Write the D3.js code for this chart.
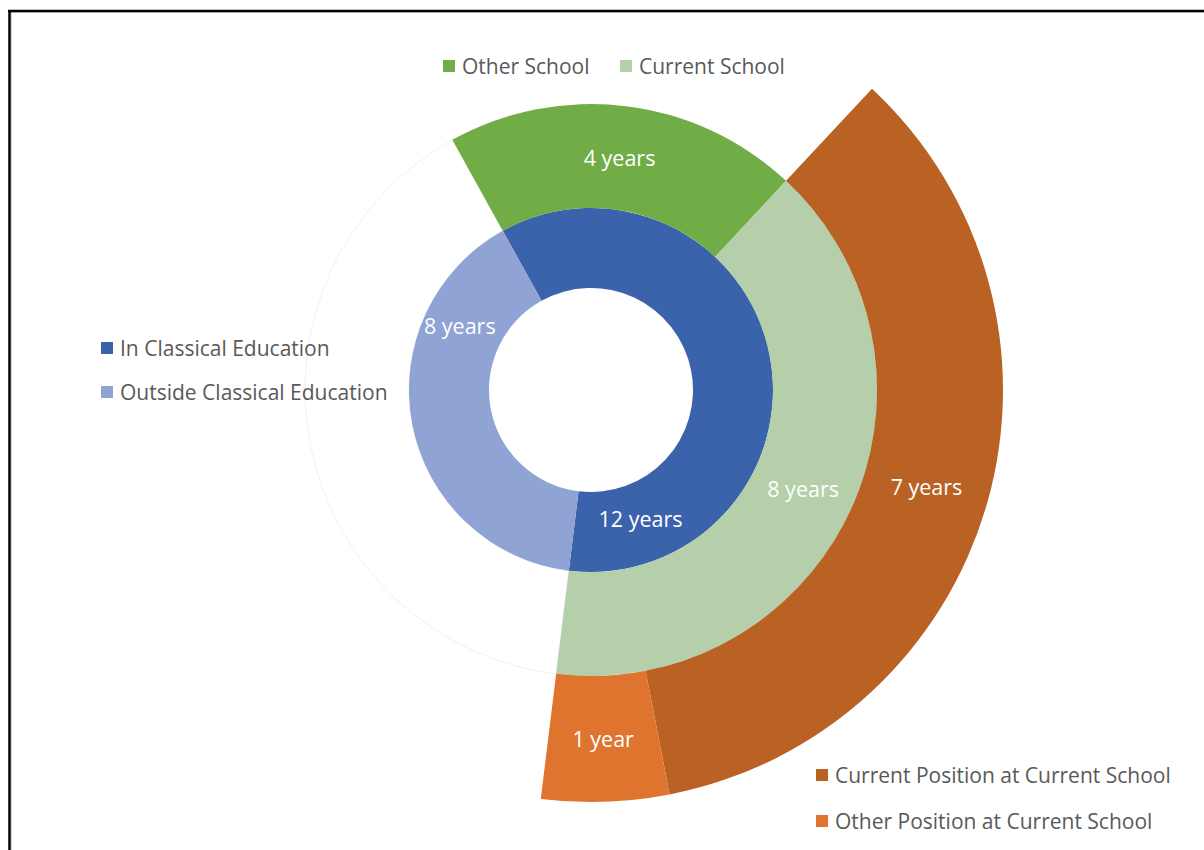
<!DOCTYPE html>
<html>
<head>
<meta charset="utf-8">
<script src="https://cdn.jsdelivr.net/npm/d3@7/dist/d3.min.js"></script>
<style>
  html, body { margin: 0; padding: 0; background: #fff; }
  svg { display: block; }
  text { font-family: "Open Sans", Lato, sans-serif; }
</style>
</head>
<body>
<script>
// Career timeline in years, drawn as three nested doughnut rings.
const educationCategories = ["In Classical Education", "Outside Classical Education"];
const educationYears = [12, 8];

const schoolCategories = ["Other School", "Current School"];
const schoolYears = [4, 8];

const positionCategories = ["Current Position at Current School", "Other Position at Current School"];
const positionYears = [7, 1];

const yearLabel = v => v === 1 ? "1 year" : v + " years";

const W = 1204, H = 850;
const cx = 591, cy = 390;
const radii = [102, 182, 286, 412];
const startDeg = -29;

const colors = {
  "In Classical Education": "#3b63ab",
  "Outside Classical Education": "#8fa3d5",
  "Other School": "#70ad47",
  "Current School": "#b4cfa9",
  "Current Position at Current School": "#b96223",
  "Other Position at Current School": "#de742d"
};

const svg = d3.select("body").append("svg").attr("width", W).attr("height", H);

// frame lines
svg.append("line").attr("x1", 8).attr("x2", W).attr("y1", 12.5).attr("y2", 12.5).attr("stroke", "#d9d9d9").attr("stroke-width", 1);
svg.append("line").attr("x1", 11.5).attr("x2", 11.5).attr("y1", 12).attr("y2", H).attr("stroke", "#d9d9d9").attr("stroke-width", 1);
svg.append("line").attr("x1", 8).attr("x2", W).attr("y1", 11).attr("y2", 11).attr("stroke", "#000").attr("stroke-width", 2.5);
svg.append("line").attr("x1", 9.5).attr("x2", 9.5).attr("y1", 10).attr("y2", H).attr("stroke", "#000").attr("stroke-width", 2.5);

const g = svg.append("g").attr("transform", `translate(${cx},${cy})`);
const rad = d => d * Math.PI / 180;

const pie = d3.pie().sort(null).value(d => d.value)
  .startAngle(rad(startDeg)).endAngle(rad(startDeg) + 2 * Math.PI);

const totalYears = d3.sum(educationYears);
const outsideYears = educationYears[1];

// ring slices: blank slices keep the rings aligned on the same time scale
const rings = [
  educationCategories.map((c, i) => ({ key: c, value: educationYears[i] })),
  schoolCategories.map((c, i) => ({ key: c, value: schoolYears[i] }))
    .concat([{ key: null, value: outsideYears }]),
  [{ key: null, value: schoolYears[0] }]
    .concat(positionCategories.map((c, i) => ({ key: c, value: positionYears[i] })))
    .concat([{ key: null, value: totalYears - schoolYears[0] - d3.sum(positionYears) }])
];

// hand-placed label angles for the inner ring (degrees clockwise from top)
const innerLabelAngle = { "In Classical Education": 159, "Outside Classical Education": 296 };
const innerLabelRadius = { "In Classical Education": 138, "Outside Classical Education": 146 };

const blankLayer = g.append("g");

rings.forEach((ring, ri) => {
  const arc = d3.arc().innerRadius(radii[ri]).outerRadius(radii[ri + 1]);
  const arcs = pie(ring);
  // only the school ring shows a faint outline for its blank part
  if (ri === 1) {
    blankLayer.selectAll("path")
      .data(arcs.filter(a => a.data.key === null))
      .join("path")
      .attr("d", arc)
      .attr("fill", "#fff")
      .attr("stroke", "#f1f1f1")
      .attr("stroke-width", 1);
  }
  const layer = g.append("g");
  layer.selectAll("path")
    .data(arcs.filter(a => a.data.key !== null))
    .join("path")
    .attr("d", arc)
    .attr("fill", d => colors[d.data.key]);
  layer.selectAll("text")
    .data(arcs.filter(a => a.data.key !== null))
    .join("text")
    .attr("transform", d => {
      if (ri === 0) {
        const a = rad(innerLabelAngle[d.data.key]);
        const r = innerLabelRadius[d.data.key];
        return `translate(${r * Math.sin(a)},${-r * Math.cos(a)})`;
      }
      return `translate(${arc.centroid(d)})`;
    })
    .attr("text-anchor", "middle")
    .attr("dominant-baseline", "central")
    .attr("fill", "#fff")
    .attr("font-size", 21.5)
    .text(d => yearLabel(d.data.value));
});

// legends
function legend(items, positions) {
  items.forEach((k, i) => {
    const [x, y] = positions[i];
    const lg = svg.append("g").attr("transform", `translate(${x},${y})`);
    lg.append("rect").attr("x", 0).attr("y", -6).attr("width", 12).attr("height", 12).attr("fill", colors[k]);
    lg.append("text").attr("x", 19).attr("y", 0).attr("dominant-baseline", "central")
      .attr("fill", "#595959").attr("font-size", 21).text(k);
  });
}
legend(schoolCategories, [[443, 66], [620, 66]]);
legend(educationCategories, [[101, 348], [101, 392]]);
legend(positionCategories, [[816, 775], [816, 821]]);
</script>
</body>
</html>
